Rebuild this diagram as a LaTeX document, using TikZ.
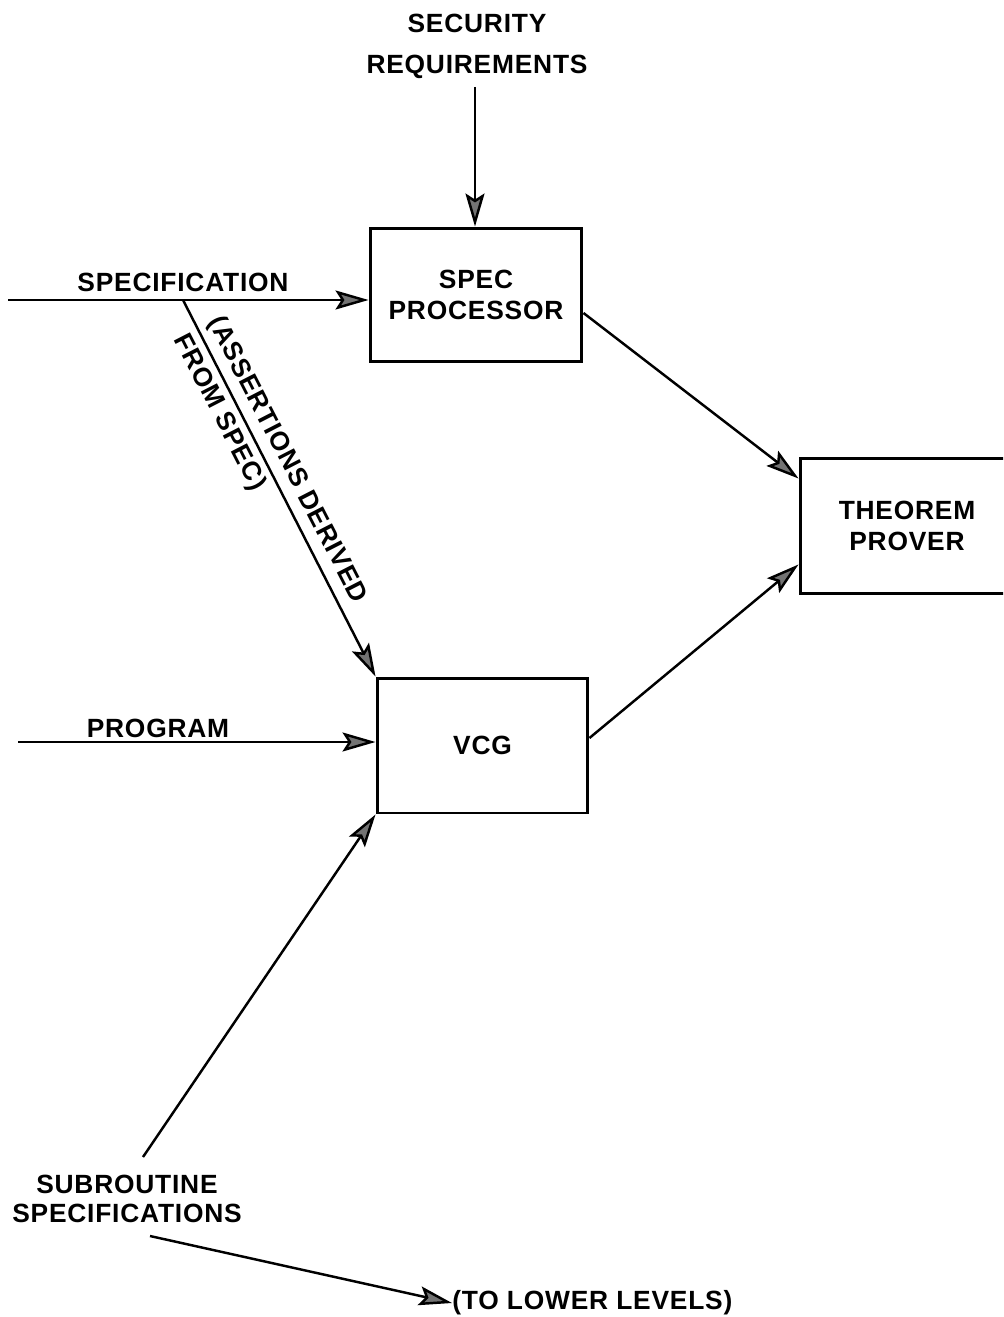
\documentclass[tikz,border=0pt]{standalone}
\usepackage{fontspec}
\setmainfont{Liberation Sans}[LetterSpace=3, BoldFont={Liberation Sans Bold}]
\usetikzlibrary{arrows.meta,positioning}
\begin{document}
\begin{tikzpicture}[x=0.02cm,y=-0.02cm,
  txt/.style={font=\fontsize{15pt}{18pt}\selectfont\bfseries, inner sep=0pt, align=center},
  blk/.style={draw, line width=1.7pt, inner sep=0pt, align=center,
    font=\fontsize{15pt}{18pt}\selectfont\bfseries},
  arr/.style={line width=1.4pt, -{Stealth[length=0.66cm, width=0.38cm, inset=0.12cm, fill=black!55]}}
]
\useasboundingbox (0,0) rectangle (1003,1317);
\clip (0,0) rectangle (1003,1317);
\fill[white] (0,0) rectangle (1003,1317);

% boxes
\node[blk, minimum width=4.24cm, minimum height=2.68cm] (spec) at (476,295)
  {\fontsize{15pt}{20pt}\selectfont\bfseries SPEC\\PROCESSOR};
\node[blk, minimum width=4.22cm, minimum height=2.70cm] (vcg) at (482.5,745.5) {VCG};
\node[blk, minimum width=4.28cm, minimum height=2.72cm] (thm) at (907,526)
  {\fontsize{15pt}{16.5pt}\selectfont\bfseries THEOREM\\PROVER};

% texts
\node[txt, font=\fontsize{15pt}{23.3pt}\selectfont\bfseries] (sec) at (477,46) {SECURITY\\REQUIREMENTS};
\node[txt] (speclbl) at (183,282) {SPECIFICATION};
\node[txt] (proglbl) at (158,728) {PROGRAM};
\node[txt, font=\fontsize{15pt}{16.5pt}\selectfont\bfseries] (sublbl) at (127,1199) {SUBROUTINE\\SPECIFICATIONS};
\node[txt, anchor=west] (lower) at (452,1303) {(TO LOWER LEVELS)};

% coordinates
\coordinate (secA) at (475,87);
\coordinate (sL) at (8,300);
\coordinate (sD) at (183,300);
\coordinate (pL) at (18,742);
\coordinate (subA) at (143,1157);
\coordinate (lowA) at (150,1236);

% connectors
\draw[arr] (secA) -- (secA |- spec.north);
\draw[arr] (sL) -- (sL -| spec.west);
\draw[arr] (sD) -- (vcg.north west)
  node[pos=0.07, anchor=west, rotate=-62.8, inner sep=0pt, align=left,
       font=\fontsize{15pt}{22pt}\selectfont\bfseries] (assert) {(ASSERTIONS DERIVED\\FROM SPEC)};
\draw[arr] (pL) -- (pL -| vcg.west);
\draw[arr] (subA) -- (vcg.south west);
\draw[arr] ([yshift=-0.36cm]spec.east) -- ([yshift=-0.44cm]thm.north west);
\draw[arr] ([yshift=0.15cm]vcg.east) -- ([yshift=0.62cm]thm.south west);
\draw[arr] (lowA) -- (lower.west);
\end{tikzpicture}
\end{document}
